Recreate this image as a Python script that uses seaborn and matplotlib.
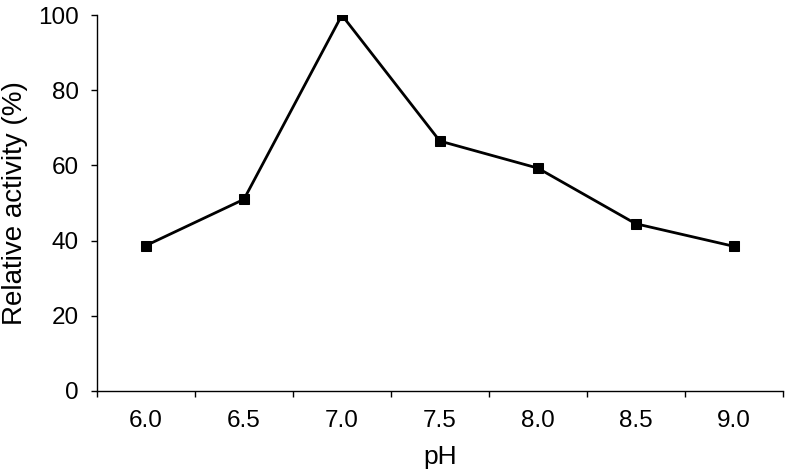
import matplotlib
matplotlib.use("Agg")
import matplotlib.pyplot as plt
import seaborn as sns
import pandas as pd
import numpy as np

ph_labels = ["6.0", "6.5", "7.0", "7.5", "8.0", "8.5", "9.0"]
activity = [38.7, 51.0, 100.0, 66.5, 59.3, 44.5, 38.5]

sns.set_style("ticks")
plt.rcParams["font.family"] = ["Liberation Sans", "DejaVu Sans"]
plt.rcParams["text.color"] = "black"
plt.rcParams["axes.labelcolor"] = "black"
plt.rcParams["xtick.color"] = "black"
plt.rcParams["ytick.color"] = "black"

df = pd.DataFrame({"pos": np.arange(len(ph_labels)), "activity": activity})

fig = plt.figure(figsize=(7.85, 4.73), dpi=100)
ax = fig.add_axes([0.1236, 0.1734, 0.8734, 0.7946])
sns.lineplot(
    data=df,
    x="pos",
    y="activity",
    marker="s",
    markersize=7,
    color="black",
    linewidth=2,
    markeredgecolor="black",
    ax=ax
)

ax.set_xlim(-0.5, len(ph_labels) - 0.5)
ax.set_ylim(0, 100)
ax.set_yticks(range(0, 101, 20))
ax.set_xticks(np.arange(len(ph_labels)))
ax.set_xticklabels(ph_labels)
ax.set_xticks(np.arange(-0.5, len(ph_labels)), minor=True)
ax.tick_params(axis="x", which="major", length=0, pad=14, labelsize=17.5)
ax.tick_params(axis="x", which="minor", length=4, width=1, direction="out")
ax.tick_params(axis="y", length=4, width=1, labelsize=17.5, pad=9)

sns.despine(ax=ax)
for s in ["left", "bottom"]:
    ax.spines[s].set_color("black")
    ax.spines[s].set_linewidth(1)

ax.set_xlabel("pH", fontsize=19, labelpad=9)
ax.set_ylabel("Relative activity (%)", fontsize=20)
ax.yaxis.set_label_coords(-0.1, 0.5)

fig.savefig("out.png", dpi=100)
